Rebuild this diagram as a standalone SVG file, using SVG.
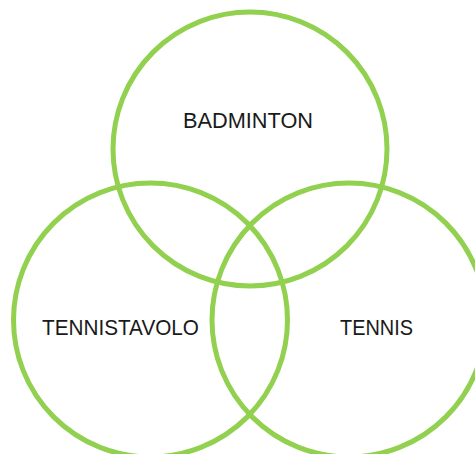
<svg xmlns="http://www.w3.org/2000/svg" width="475" height="454" viewBox="0 0 475 454">
<style>
.c{fill:none;stroke:#92D050;stroke-width:5}
.t{font-family:"Liberation Sans",Arial,sans-serif;font-size:21.5px;fill:#1a1a1a}
</style>
<rect width="475" height="454" fill="#fff"/>
<g id="badminton"><circle class="c" cx="250" cy="149" r="137"/><text class="t" x="183" y="128" textLength="130" lengthAdjust="spacingAndGlyphs">BADMINTON</text></g>
<g id="tennistavolo"><circle class="c" cx="150.5" cy="320" r="137"/><text class="t" x="42" y="335" textLength="157" lengthAdjust="spacingAndGlyphs">TENNISTAVOLO</text></g>
<g id="tennis"><circle class="c" cx="349" cy="320" r="137"/><text class="t" x="340" y="335" textLength="73" lengthAdjust="spacingAndGlyphs">TENNIS</text></g>
<g id="connectors"/>
</svg>
